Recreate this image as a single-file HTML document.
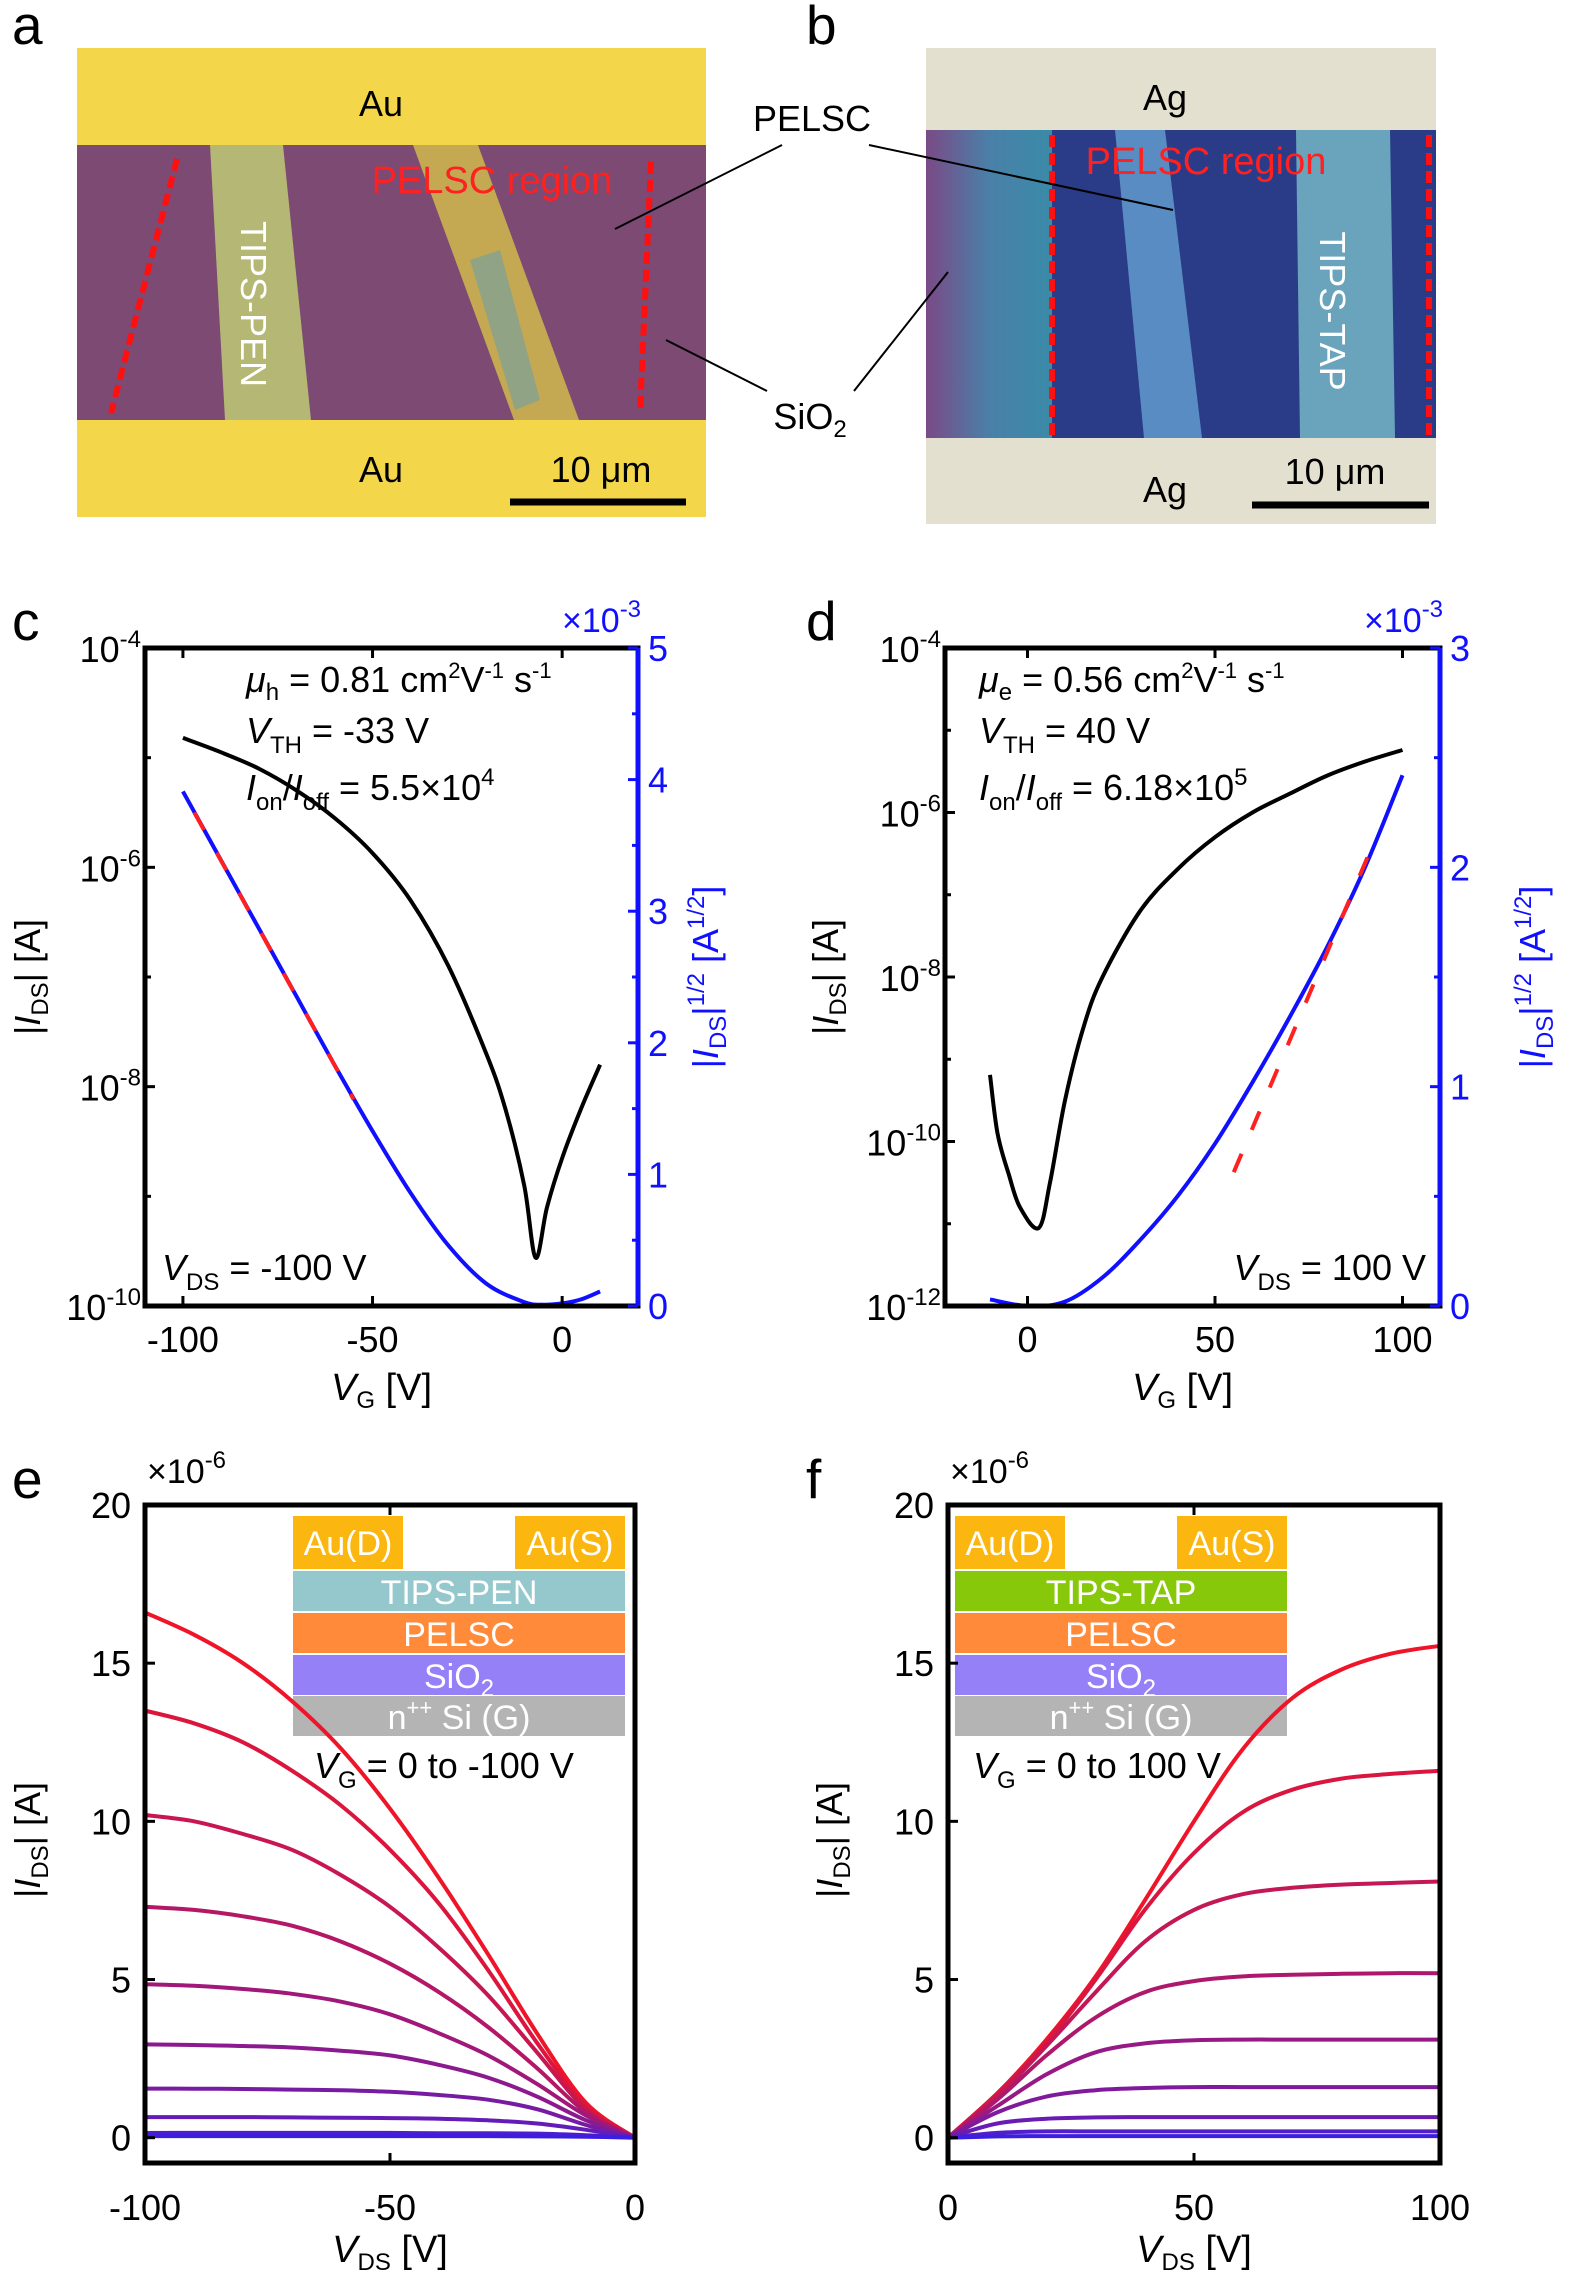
<!DOCTYPE html>
<html><head><meta charset="utf-8"><style>
body{margin:0;background:#fff}
svg{display:block;font-family:"Liberation Sans",Arial,sans-serif}
</style></head><body>
<svg id="fig" width="1575" height="2278" viewBox="0 0 1575 2278" xmlns="http://www.w3.org/2000/svg">
<defs>
<linearGradient id="gb" x1="0" y1="0" x2="1" y2="0"><stop offset="0" stop-color="#7a4a86"/><stop offset="0.5" stop-color="#4a80a8"/><stop offset="1" stop-color="#3a8aa8"/></linearGradient>
</defs>
<g>
<rect x="77" y="48" width="629" height="469" fill="#f4d64a"/>
<rect x="77" y="145" width="629" height="275" fill="#7c4a72"/>
<polygon points="210,145 283,145 311,420 225,420" fill="#b4b874"/>
<polygon points="413,145 478,145 579,420 514,420" fill="#c4a852"/>
<polygon points="470,260 500,250 540,400 515,410" fill="#70a0a8" opacity="0.6"/>
<line x1="177" y1="159" x2="111" y2="413" stroke="#ff1010" stroke-width="6" stroke-dasharray="12 6"/>
<line x1="651" y1="162" x2="640" y2="413" stroke="#ff1010" stroke-width="6" stroke-dasharray="12 6"/>
<text x="381" y="116" font-size="36" text-anchor="middle">Au</text>
<text x="381" y="482" font-size="36" text-anchor="middle">Au</text>
<text x="492" y="193" font-size="38" text-anchor="middle" fill="#ff2020">PELSC region</text>
<text x="253" y="304" font-size="36" text-anchor="middle" fill="#fff" transform="rotate(90 253 304)" dy="12">TIPS-PEN</text>
<line x1="510" y1="502" x2="686" y2="502" stroke="#000" stroke-width="7"/>
<text x="601" y="482" font-size="36" text-anchor="middle">10 μm</text>
</g>
<g>
<rect x="926" y="48" width="510" height="476" fill="#e4e0d0"/>
<rect x="926" y="130" width="510" height="308" fill="#2a3c88"/>
<rect x="926" y="130" width="126" height="308" fill="url(#gb)"/>
<polygon points="1115,130 1165,130 1202,438 1144,438" fill="#5a8cc4"/>
<polygon points="1296,130 1390,130 1395,438 1300,438" fill="#6aa4bc"/>
<line x1="1052" y1="135" x2="1052" y2="438" stroke="#ff1010" stroke-width="6" stroke-dasharray="12 6"/>
<line x1="1429" y1="135" x2="1429" y2="438" stroke="#ff1010" stroke-width="6" stroke-dasharray="12 6"/>
<text x="1165" y="110" font-size="36" text-anchor="middle">Ag</text>
<text x="1165" y="502" font-size="36" text-anchor="middle">Ag</text>
<text x="1206" y="174" font-size="38" text-anchor="middle" fill="#ff2020">PELSC region</text>
<text x="1332" y="311" font-size="36" text-anchor="middle" fill="#fff" transform="rotate(90 1332 311)" dy="12">TIPS-TAP</text>
<line x1="1252" y1="505" x2="1429" y2="505" stroke="#000" stroke-width="7"/>
<text x="1335" y="484" font-size="36" text-anchor="middle">10 μm</text>
</g>
<g stroke="#000" stroke-width="2" fill="none">
<line x1="782" y1="145" x2="615" y2="229"/><line x1="869" y1="145" x2="1173" y2="210"/>
<line x1="767" y1="391" x2="666" y2="340"/><line x1="854" y1="391" x2="948" y2="272"/>
</g>
<text x="812" y="131" font-size="36" text-anchor="middle">PELSC</text>
<text x="810" y="429" font-size="36" text-anchor="middle">SiO<tspan font-size="24" dy="8">2</tspan></text>
<g font-size="55">
<text x="12" y="44">a</text><text x="806" y="44">b</text>
<text x="12" y="640">c</text><text x="806" y="640">d</text>
<text x="12" y="1498">e</text><text x="806" y="1498">f</text>
</g>
<g id="charts"></g>
</svg>
<script>
const cVG=[-100,-90,-80,-70,-60,-50,-40,-30,-20,-15,-10,-7,-4,0,5,10];
const cLogI=[-4.82,-4.95,-5.1,-5.3,-5.55,-5.87,-6.3,-6.9,-7.7,-8.2,-8.9,-9.56,-9.1,-8.65,-8.2,-7.8];
const cVGs=[-100,-90,-80,-70,-60,-50,-40,-30,-20,-10,-5,0,5,10];
const cSqrt=[3.91,3.39,2.87,2.35,1.83,1.33,0.86,0.46,0.17,0.03,0.01,0.02,0.05,0.11];
const cFitX=[-97,-55];
const cFitY=[3.75,1.57];
const dVG=[-10,-8,-5,-2,3,6,10,15,20,30,40,50,60,70,80,90,100];
const dLogI=[-9.19,-9.9,-10.4,-10.8,-11.05,-10.5,-9.5,-8.6,-8.0,-7.2,-6.69,-6.3,-6.0,-5.77,-5.55,-5.38,-5.24];
const dVGs=[-10,0,10,20,30,40,50,60,70,80,90,100];
const dSqrt=[0.03,0,0.02,0.13,0.3,0.5,0.74,1.02,1.32,1.64,2.0,2.42];
const dFitX=[55,93];
const dFitY=[0.61,2.14];
const eVDS=[-100,-90,-80,-70,-60,-50,-40,-30,-20,-10,0];
const eCurves=[
[16.6,15.9,15.0,13.8,12.3,10.4,8.2,5.8,3.3,1.1,0],
[13.5,13.1,12.5,11.6,10.5,9.1,7.4,5.3,3.0,1.0,0],
[10.2,10.0,9.6,9.1,8.3,7.3,6.0,4.5,2.7,0.9,0],
[7.3,7.2,7.0,6.7,6.2,5.5,4.6,3.5,2.2,0.8,0],
[4.85,4.8,4.7,4.55,4.3,3.9,3.3,2.6,1.7,0.7,0],
[2.95,2.93,2.9,2.85,2.75,2.6,2.3,1.9,1.3,0.55,0],
[1.55,1.55,1.54,1.52,1.5,1.45,1.35,1.2,0.9,0.4,0],
[0.65,0.65,0.65,0.64,0.63,0.62,0.6,0.55,0.45,0.25,0],
[0.15,0.15,0.15,0.15,0.15,0.15,0.14,0.14,0.13,0.08,0],
[0.05,0.05,0.05,0.05,0.05,0.05,0.05,0.05,0.04,0.03,0]];
const fVDS=[0,10,20,30,40,50,60,70,80,90,100];
const fCurves=[
[0,1.4,3.1,5.1,7.5,10.0,12.3,13.9,14.8,15.3,15.55],
[0,1.4,3.0,5.0,7.2,9.0,10.3,11.0,11.35,11.5,11.6],
[0,1.3,2.9,4.6,6.2,7.2,7.7,7.9,8.0,8.05,8.1],
[0,1.2,2.6,3.8,4.6,4.95,5.1,5.15,5.18,5.2,5.2],
[0,1.0,2.0,2.7,2.98,3.08,3.1,3.1,3.1,3.1,3.1],
[0,0.8,1.3,1.5,1.57,1.6,1.6,1.6,1.6,1.6,1.6],
[0,0.45,0.6,0.64,0.65,0.65,0.65,0.65,0.65,0.65,0.65],
[0,0.15,0.2,0.2,0.2,0.2,0.2,0.2,0.2,0.2,0.2],
[0,0.04,0.05,0.05,0.05,0.05,0.05,0.05,0.05,0.05,0.05]];
const cXTicks=[-100,-50,0];
const dXTicks=[0,50,100];
const eXTicks=[-100,-50,0];
const fXTicks=[0,50,100];
const cLogTicks=[-4,-6,-8,-10];
const dLogTicks=[-4,-6,-8,-10,-12];
const cRightTicks=[0,1,2,3,4,5];
const dRightTicks=[0,1,2,3];
const ivTicks=[0,5,10,15,20];

const NS='http://www.w3.org/2000/svg';
const root=document.getElementById('charts');
function mk(tag,attrs,parent){const e=document.createElementNS(NS,tag);for(const k in attrs)e.setAttribute(k,attrs[k]);(parent||root).appendChild(e);return e;}
function lin(d0,d1,r0,r1){return v=>r0+(v-d0)/(d1-d0)*(r1-r0);}
function smooth(pts){let d='M'+pts[0][0]+','+pts[0][1];for(let i=0;i<pts.length-1;i++){const p0=pts[Math.max(i-1,0)],p1=pts[i],p2=pts[i+1],p3=pts[Math.min(i+2,pts.length-1)];
const c1=[p1[0]+(p2[0]-p0[0])/6,p1[1]+(p2[1]-p0[1])/6],c2=[p2[0]-(p3[0]-p1[0])/6,p2[1]-(p3[1]-p1[1])/6];
d+=`C${c1[0].toFixed(1)},${c1[1].toFixed(1)} ${c2[0].toFixed(1)},${c2[1].toFixed(1)} ${p2[0].toFixed(1)},${p2[1].toFixed(1)}`;}return d;}
function txt(x,y,html,attrs,parent){const t=mk('text',Object.assign({x:x,y:y},attrs),parent);t.innerHTML=html;return t;}
const sup=(b,e)=>`${b}<tspan font-size="24" dy="-15">${e}</tspan>`;

function frame(g,L,R,T,B,rightColor){
  const f=mk('rect',{x:L,y:T,width:R-L,height:B-T,fill:'none',stroke:'#000','stroke-width':5},g);
  
  
  if(rightColor){const r=mk('line',{x1:R,y1:T,x2:R,y2:B,stroke:rightColor,'stroke-width':5},g);
    
    }
}
function xTicks(g,ticks,sx,T,B,ly){
  ticks.forEach(v=>{const x=sx(v);
    const t=mk('path',{d:`M${x},${B}v-10M${x},${T}v10`,stroke:'#000','stroke-width':3},g);
    
    
    const l=txt(x,ly,String(v),{'font-size':36,'text-anchor':'middle'},g);
    
    });
}
function panelLog(opts){
  const g=mk('g',{});
  
  
  const {L,R,T,B}=opts;
  const sx=lin(opts.xmin,opts.xmax,L,R), sy=lin(opts.lmin,opts.lmax,B,T), sr=lin(0,opts.rmax,B,T);
  const bp=mk('path',{d:smooth(opts.sx.map((v,i)=>[sx(v),sr(opts.sy[i])])),fill:'none',stroke:'#1010ff','stroke-width':4},g);
  
  
  const fl=mk('line',{x1:sx(opts.fx[0]),y1:sr(opts.fy[0]),x2:sx(opts.fx[1]),y2:sr(opts.fy[1]),stroke:'#ff2020','stroke-width':4,'stroke-dasharray':'20 26'},g);
  
  
  const kp=mk('path',{d:smooth(opts.lx.map((v,i)=>[sx(v),sy(opts.ly[i])])),fill:'none',stroke:'#000','stroke-width':4},g);
  
  
  frame(g,L,R,T,B,'#1010ff');
  xTicks(g,opts.xt,sx,T,B,1352);
  for(let e=opts.lmin;e<=opts.lmax;e++){const y=sy(e);
    const t=mk('line',{x1:L,y1:y,x2:L+(opts.lt.includes(e)?10:6),y2:y,stroke:'#000','stroke-width':3},g);
    
    }
  opts.lt.forEach(e=>{const l=txt(L-4,sy(e)+14,sup('10',e),{'font-size':36,'text-anchor':'end'},g);
    
    });
  for(let v=0;v<=opts.rmax;v+=0.5){const y=sr(v);
    const t=mk('line',{x1:R,y1:y,x2:R-(v%1===0?10:6),y2:y,stroke:'#1010ff','stroke-width':3},g);
    
    }
  opts.rt.forEach(v=>{const l=txt(R+10,sr(v)+13,String(v),{'font-size':36,fill:'#1010ff'},g);
    
    });
  const m=txt(R-76,T-16,'×'+sup('10','-3'),{'font-size':34,fill:'#1010ff'},g);
  
  
  const yl=txt(0,0,'|<tspan font-style="italic">I</tspan><tspan font-size="24" dy="8">DS</tspan><tspan dy="-8">| [A]</tspan>',{'font-size':36,'text-anchor':'middle',transform:`translate(${opts.ylx},977) rotate(-90)`},g);
  
  
  const rl=txt(0,0,'|<tspan font-style="italic">I</tspan><tspan font-size="24" dy="8">DS</tspan><tspan dy="-8">|</tspan><tspan font-size="24" dy="-14">1/2</tspan><tspan dy="14"> [A</tspan><tspan font-size="24" dy="-14">1/2</tspan><tspan dy="14">]</tspan>',{'font-size':36,'text-anchor':'middle',fill:'#1010ff',transform:`translate(${opts.rlx},977) rotate(-90)`},g);
  
  
  const xl=txt((L+R)/2-10,1400,'<tspan font-style="italic">V</tspan><tspan font-size="24" dy="8">G</tspan><tspan dy="-8"> [V]</tspan>',{'font-size':38,'text-anchor':'middle'},g);
  
  
  const a=txt(opts.ax,692,`<tspan font-style="italic">μ</tspan><tspan font-size="24" dy="8">${opts.mu}</tspan><tspan dy="-8"> = ${opts.muv} cm</tspan><tspan font-size="22" dy="-14">2</tspan><tspan dy="14">V</tspan><tspan font-size="22" dy="-14">-1</tspan><tspan dy="14"> s</tspan><tspan font-size="22" dy="-14">-1</tspan>`,{'font-size':36},g);
  
  
  const b=txt(opts.ax,743,`<tspan font-style="italic">V</tspan><tspan font-size="24" dy="10">TH</tspan><tspan dy="-10">  = ${opts.vth}</tspan>`,{'font-size':36},g);
  
  
  const c=txt(opts.ax,800,`<tspan font-style="italic">I</tspan><tspan font-size="24" dy="10">on</tspan><tspan dy="-10">/</tspan><tspan font-style="italic">I</tspan><tspan font-size="24" dy="10">off</tspan><tspan dy="-10"> = ${opts.ratio}</tspan><tspan font-size="24" dy="-15">${opts.rexp}</tspan>`,{'font-size':36},g);
  
  
  const v=txt(opts.vdsx,1280,`<tspan font-style="italic">V</tspan><tspan font-size="24" dy="10">DS</tspan><tspan dy="-10"> = ${opts.vds}</tspan>`,{'font-size':36,'text-anchor':opts.vdsAnchor},g);
  
  
}
panelLog({name:'panel-c-transfer',L:145,R:638,T:648,B:1306,xmin:-110,xmax:20,lmin:-10,lmax:-4,rmax:5,
 lx:cVG,ly:cLogI,sx:cVGs,sy:cSqrt,fx:cFitX,fy:cFitY,xt:cXTicks,lt:cLogTicks,rt:cRightTicks,ylx:40,rlx:718,
 ax:246,mu:'h',muv:'0.81',vth:'-33 V',ratio:'5.5×10',rexp:'4',vdsx:162,vds:'-100 V',vdsAnchor:'start'});
panelLog({name:'panel-d-transfer',L:945,R:1440,T:648,B:1306,xmin:-22,xmax:110,lmin:-12,lmax:-4,rmax:3,
 lx:dVG,ly:dLogI,sx:dVGs,sy:dSqrt,fx:dFitX,fy:dFitY,xt:dXTicks,lt:dLogTicks,rt:dRightTicks,ylx:838,rlx:1545,
 ax:979,mu:'e',muv:'0.56',vth:'40 V',ratio:'6.18×10',rexp:'5',vdsx:1426,vds:'100 V',vdsAnchor:'end'});

function col(i,n){const t=i/(n-1);const r=Math.round(240-(240-60)*t),gg=Math.round(20+10*t),b=Math.round(40+(225-40)*t);return `rgb(${r},${gg},${b})`;}
function panelIV(opts){
  const g=mk('g',{});
  
  
  const {L,R,T,B}=opts;
  const sx=lin(opts.xmin,opts.xmax,L,R), sy=lin(-0.8,20,B,T);
  const layers=[['TIPS-'+opts.semi,opts.semiColor],['PELSC','#ff8a3a'],['SiO<tspan font-size="24" dy="8">2</tspan>','#9580f8'],['n<tspan font-size="22" dy="-14">++</tspan><tspan dy="14"> Si (G)</tspan>','#b4b4b4']];
  const ix=opts.ix,iw=332;
  const au1=mk('rect',{x:ix,y:1516,width:110,height:53,fill:'#fbb710'},g);
  
  
  const au2=mk('rect',{x:ix+iw-110,y:1516,width:110,height:53,fill:'#fbb710'},g);
  
  
  txt(ix+55,1555,'Au(D)',{'font-size':34,fill:'#fff','text-anchor':'middle'},g);
  txt(ix+iw-55,1555,'Au(S)',{'font-size':34,fill:'#fff','text-anchor':'middle'},g);
  const ys=[1571,1613,1655,1696];
  layers.forEach((Ly,i)=>{const r=mk('rect',{x:ix,y:ys[i],width:iw,height:40,fill:Ly[1]},g);
    
    
    txt(ix+iw/2,ys[i]+33,Ly[0],{'font-size':34,fill:'#fff','text-anchor':'middle'},g);});
  const n=opts.curves.length;
  opts.curves.forEach((c,i)=>{const p=mk('path',{d:smooth(opts.xs.map((v,j)=>[sx(v),sy(c[j])])),fill:'none',stroke:col(i,n),'stroke-width':4},g);
    
    });
  frame(g,L,R,T,B,null);
  xTicks(g,opts.xt,sx,T,B,2220);
  ivTicks.forEach(v=>{const y=sy(v);
    const t=mk('line',{x1:L,y1:y,x2:L+10,y2:y,stroke:'#000','stroke-width':3},g);
    
    
    const l=txt(L-14,y+13,String(v),{'font-size':36,'text-anchor':'end'},g);
    
    });
  const m=txt(L+2,1483,'×'+sup('10','-6'),{'font-size':34},g);
  
  
  const yl=txt(0,0,'|<tspan font-style="italic">I</tspan><tspan font-size="24" dy="8">DS</tspan><tspan dy="-8">| [A]</tspan>',{'font-size':36,'text-anchor':'middle',transform:`translate(${opts.ylx},1840) rotate(-90)`},g);
  
  
  const xl=txt((L+R)/2,2262,'<tspan font-style="italic">V</tspan><tspan font-size="24" dy="8">DS</tspan><tspan dy="-8"> [V]</tspan>',{'font-size':38,'text-anchor':'middle'},g);
  
  
  const v=txt(opts.vgx,1778,`<tspan font-style="italic">V</tspan><tspan font-size="24" dy="10">G</tspan><tspan dy="-10"> = ${opts.vg}</tspan>`,{'font-size':36},g);
  
  
}
panelIV({name:'panel-e-output',L:145,R:635,T:1505,B:2163,xmin:-100,xmax:0,xs:eVDS,curves:eCurves,xt:eXTicks,ix:293,semi:'PEN',semiColor:'#94c8cc',ylx:40,vgx:314,vg:'0 to -100 V'});
panelIV({name:'panel-f-output',L:948,R:1440,T:1505,B:2163,xmin:0,xmax:100,xs:fVDS,curves:fCurves,xt:fXTicks,ix:955,semi:'TAP',semiColor:'#88c80a',ylx:842,vgx:973,vg:'0 to 100 V'});
</script>
</body></html>
